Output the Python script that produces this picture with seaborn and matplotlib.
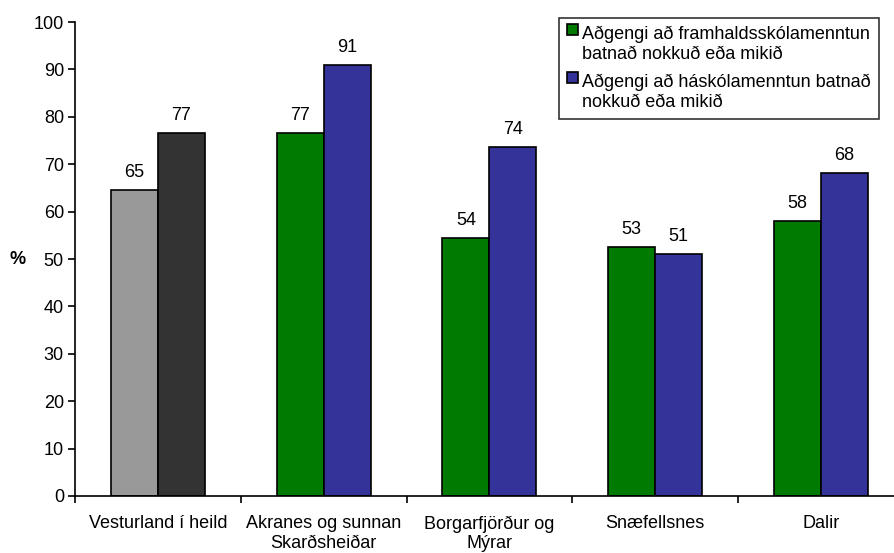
import pandas as pd
import matplotlib.pyplot as plt
import seaborn as sns
from matplotlib.ticker import FixedLocator
from matplotlib.patches import Rectangle
from matplotlib.legend_handler import HandlerPatch

# -----------------------------
# Data
# -----------------------------
svaedi = [
    "Vesturland í heild",
    "Akranes og sunnan\nSkarðsheiðar",
    "Borgarfjörður og\nMýrar",
    "Snæfellsnes",
    "Dalir",
]
framhald = [64.6, 76.6, 54.4, 52.6, 58.1]
haskoli = [76.6, 91.0, 73.7, 51.0, 68.2]
flokkar = [
    "Aðgengi að framhaldsskólamenntun\nbatnað nokkuð eða mikið",
    "Aðgengi að háskólamenntun batnað\nnokkuð eða mikið",
]

GREEN = "#007a00"
BLUE = "#333399"
FS = 13

df = pd.DataFrame({
    "svaedi": svaedi * 2,
    "hlutfall": framhald + haskoli,
    "flokkur": [flokkar[0]] * len(svaedi) + [flokkar[1]] * len(svaedi),
})


# legend square sits next to the first text line, not centred
def top_square(legend, orig_handle, xdescent, ydescent, width, height, fontsize):
    return Rectangle((-xdescent, -ydescent + 0.85 * fontsize), width, width)


# -----------------------------
# Plot
# -----------------------------
sns.set_style("white")
plt.rcParams["font.family"] = ["Liberation Sans", "DejaVu Sans"]
plt.rcParams["text.color"] = "black"
plt.rcParams["xtick.color"] = "black"
plt.rcParams["ytick.color"] = "black"
plt.rcParams["axes.labelcolor"] = "black"

fig = plt.figure(figsize=(8.95, 5.53), dpi=100)
ax = fig.add_axes([0.0838, 0.1031, 0.926, 0.857])

sns.barplot(data=df, x="svaedi", y="hlutfall", hue="flokkur",
            palette=[GREEN, BLUE], width=0.567, edgecolor="black",
            linewidth=1.2, saturation=1, ax=ax)

# first group is drawn in gray
ax.containers[0][0].set_facecolor("#999999")
ax.containers[1][0].set_facecolor("#333333")

for cont in ax.containers:
    ax.bar_label(cont, labels=[f"{round(b.get_height()):.0f}" for b in cont],
                 padding=6.5, fontsize=FS)

ax.set_ylim(0, 100)
ax.set_xlim(-0.5, 4.5)
ax.set_yticks(range(0, 101, 10))
ax.set_xlabel("")
ax.set_ylabel("%", rotation=0, fontsize=FS, fontweight="bold", va="center", ha="center")
ax.yaxis.set_label_coords(-0.069, 0.5)

ax.tick_params(axis="y", direction="out", length=5, width=1.2, labelsize=FS, pad=3, left=True)
ax.tick_params(axis="x", which="major", length=0, labelsize=FS, pad=14)
ax.xaxis.set_minor_locator(FixedLocator([-0.5, 0.5, 1.5, 2.5, 3.5, 4.5]))
ax.tick_params(axis="x", which="minor", direction="out", length=5, width=1.2, bottom=True)

for s in ["top", "right"]:
    ax.spines[s].set_visible(False)
for s in ["left", "bottom"]:
    ax.spines[s].set_color("black")
    ax.spines[s].set_linewidth(1.2)

handles, labels = ax.get_legend_handles_labels()
leg = ax.legend(handles, labels, loc="upper right",
                bbox_to_anchor=(879 / 895, 1 - 18 / 553),
                bbox_transform=fig.transFigure, borderaxespad=0, fontsize=FS,
                frameon=True, fancybox=False, edgecolor="black",
                handlelength=0.6, handleheight=0.6, handletextpad=0.25,
                labelspacing=0.6, borderpad=0.45,
                handler_map={h: HandlerPatch(patch_func=top_square) for h in handles})
leg.get_frame().set_linewidth(1.2)
for t in leg.get_texts():
    t.set_linespacing(1.2)

fig.savefig("out.png", dpi=100)
